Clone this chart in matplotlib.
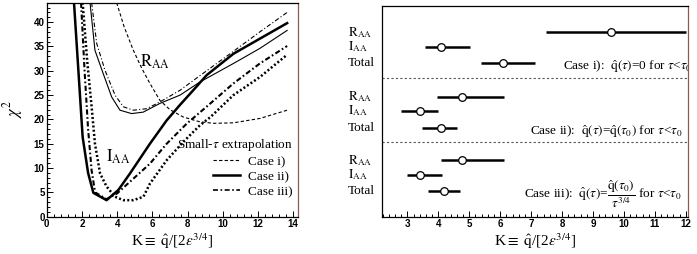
import matplotlib
matplotlib.use("Agg")
import matplotlib.pyplot as plt
from matplotlib.lines import Line2D
from matplotlib.ticker import MultipleLocator
import matplotlib.transforms as mtransforms

plt.rcParams['mathtext.fontset'] = 'stix'
plt.rcParams['font.family'] = ['Liberation Serif', 'DejaVu Serif']

# ---------------- Left panel data: chi2 vs K ----------------
# R_AA curves (thin)
raa_i_k   = [3.97, 4.4, 4.92, 5.4, 5.86, 6.43, 7.0, 7.75, 8.7, 9.5, 10.6, 12.1, 13.65]
raa_i_chi = [44.0, 39.0, 34.2, 30.5, 27.4, 23.9, 22.0, 20.5, 19.5, 19.2, 19.3, 20.2, 21.9]

raa_ii_k   = [2.46, 2.74, 3.21, 3.69, 4.16, 4.82, 5.48, 6.43, 7.57, 8.7, 10.6, 12.1, 13.65]
raa_ii_chi = [44.0, 34.2, 29.4, 24.6, 21.9, 21.2, 21.5, 23.3, 25.0, 27.7, 31.5, 34.6, 38.3]

raa_iii_k   = [2.55, 2.84, 3.31, 3.88, 4.35, 4.92, 5.67, 6.43, 7.57, 8.7, 10.6, 12.1, 13.65]
raa_iii_chi = [44.0, 35.6, 30.1, 25.0, 22.6, 21.9, 22.2, 23.6, 26.0, 29.0, 34.0, 38.0, 42.0]

# I_AA curves (thick)
iaa_i_k   = [2.04, 2.3, 2.55, 2.74, 3.03, 3.4, 3.88, 4.35, 4.92, 5.49, 5.86, 6.81, 7.76, 8.7, 9.3, 10.6, 12.1, 13.65]
iaa_i_chi = [44.0, 32.0, 22.6, 15.0, 8.9, 6.2, 4.1, 3.4, 3.4, 4.1, 6.8, 11.6, 15.4, 18.8, 20.5, 25.0, 28.7, 33.3]

iaa_ii_k   = [1.55, 1.8, 2.04, 2.35, 2.65, 3.4, 4.07, 4.73, 5.86, 6.81, 7.57, 8.32, 9.08, 10.6, 12.1, 13.65]
iaa_ii_chi = [44.0, 30.0, 16.4, 9.0, 4.9, 3.4, 5.5, 8.9, 15.0, 19.8, 23.0, 26.0, 29.1, 33.5, 36.6, 39.8]

iaa_iii_k   = [1.95, 2.15, 2.35, 2.55, 2.75, 3.4, 4.0, 4.73, 5.86, 6.81, 7.94, 9.2, 10.6, 12.1, 13.65]
iaa_iii_chi = [44.0, 30.0, 18.0, 9.5, 5.0, 3.6, 4.8, 7.2, 10.9, 15.0, 19.1, 23.0, 27.4, 31.5, 35.1]

# ---------------- Right panel data: best K with ranges ----------------
cases = ['i', 'ii', 'iii']
row_names = ['R_AA', 'I_AA', 'Total']
best   = [[9.57, 4.09, 6.08], [4.78, 3.40, 4.09], [4.78, 3.40, 4.19]]
lo     = [[7.48, 3.58, 5.38], [3.97, 2.78, 3.47], [4.08, 2.98, 3.68]]
hi     = [[12.01, 5.02, 7.11], [6.11, 4.00, 4.61], [6.11, 4.11, 4.70]]

W, H = 697, 254
fig = plt.figure(figsize=(W / 100, H / 100), dpi=100)

tickfont = dict(family='Liberation Sans', weight='bold', size=7)
spine_right_color = '#8a5a50'

# ================= Left panel =================
ax1 = fig.add_axes([46.7 / W, 1 - 216.7 / H, (297.7 - 46.7) / W, (216.7 - 2.7) / H])
thin = 0.8
thick = 1.8
ax1.plot(raa_i_k, raa_i_chi, color='black', lw=thin, ls=(0, (3, 2)))
ax1.plot(raa_ii_k, raa_ii_chi, color='black', lw=thin, ls='-')
ax1.plot(raa_iii_k, raa_iii_chi, color='black', lw=thin, ls=(0, (4, 2, 1, 2)))
ax1.plot(iaa_i_k, iaa_i_chi, color='black', lw=thick, ls=(0, (0.8, 0.9)))
ax1.plot(iaa_ii_k, iaa_ii_chi, color='black', lw=thick, ls='-')
ax1.plot(iaa_iii_k, iaa_iii_chi, color='black', lw=1.5, ls=(0, (2.5, 1.2, 0.8, 1.2)))

ax1.set_xlim(0, 14.25)
ax1.set_ylim(0, 44)
ax1.xaxis.set_major_locator(MultipleLocator(2))
ax1.xaxis.set_minor_locator(MultipleLocator(0.4))
ax1.yaxis.set_major_locator(MultipleLocator(5))
ax1.yaxis.set_minor_locator(MultipleLocator(1))
ax1.tick_params(which='both', direction='in', top=False, right=False, width=0.7)
ax1.tick_params(which='major', length=4, pad=1.5)
ax1.tick_params(which='minor', length=2)
for lab in ax1.get_xticklabels() + ax1.get_yticklabels():
    lab.set_fontproperties(matplotlib.font_manager.FontProperties(**tickfont))
for s in ax1.spines.values():
    s.set_linewidth(0.9)
ax1.spines['right'].set_color(spine_right_color)

ax1.text(6.15, 31.8, r'$\mathrm{R}_{\mathrm{AA}}$', fontsize=12, ha='center', va='center')
ax1.text(4.07, 12.3, r'$\mathrm{I}_{\mathrm{AA}}$', fontsize=12, ha='center', va='center')

handles = [Line2D([], [], color='black', lw=thin, ls=(0, (3, 2))),
           Line2D([], [], color='black', lw=thick, ls='-'),
           Line2D([], [], color='black', lw=1.2, ls=(0, (3, 1.5, 1, 1.5)))]
leg = ax1.legend(handles, ['Case i)', 'Case ii)', 'Case iii)'],
                 title=r'Small-$\tau$ extrapolation', loc='lower right',
                 bbox_to_anchor=(1.015, 0.045), frameon=False, fontsize=9.5,
                 title_fontsize=9.5, handlelength=2.0, handletextpad=0.6,
                 labelspacing=0.2, borderpad=0.2)
leg._legend_box.align = 'right'

ax1.set_xlabel(r'K$\equiv$ $\hat{\mathrm{q}}$/[2$\varepsilon^{3/4}$]', fontsize=11, labelpad=2)
fig.text(13 / W, 1 - 109 / H, r'$\chi^2$', rotation=90, fontsize=12, ha='center', va='center')

# ================= Right panel =================
ax2 = fig.add_axes([381.7 / W, 1 - 216.7 / H, (688.3 - 381.7) / W, (216.7 - 6) / H])
ax2.set_xlim(2.17, 12.08)
ax2.set_ylim(0, 13.25)

group_base = [9.65, 5.6, 1.6]
row_offsets = [1.95, 1.05, 0.0]
row_labels = [r'$\mathrm{R}_{\mathrm{AA}}$', r'$\mathrm{I}_{\mathrm{AA}}$', 'Total']
blend = mtransforms.blended_transform_factory(ax2.transAxes, ax2.transData)
for g in range(3):
    for r in range(3):
        y = group_base[g] + row_offsets[r]
        ax2.plot([lo[g][r], hi[g][r]], [y, y], color='black', lw=1.8, solid_capstyle='butt')
        ax2.plot([best[g][r]], [y], marker='o', ms=5.5, mfc='white', mec='black', mew=0.9)
        ax2.text(-0.111, y, row_labels[r], transform=blend, fontsize=9.5,
                 ha='left', va='center', clip_on=False)

for y in [8.7, 4.7]:
    ax2.axhline(y, color='#555555', lw=0.8, ls=(0, (2, 2)))

case_texts = [r'Case i):  $\hat{\mathrm{q}}(\tau)$=0 for $\tau$<$\tau_0$',
              r'Case ii):  $\hat{\mathrm{q}}(\tau)$=$\hat{\mathrm{q}}(\tau_0)$ for $\tau$<$\tau_0$',
              r'Case iii):  $\hat{\mathrm{q}}(\tau)$=$\dfrac{\hat{\mathrm{q}}(\tau_0)}{\tau^{3/4}}$ for $\tau$<$\tau_0$']
case_pos = [(12.2, 9.45), (11.9, 5.35), (11.87, 1.4)]
for t, (x, y) in zip(case_texts, case_pos):
    ax2.text(x, y, t, fontsize=9.5, ha='right', va='center', clip_on=True)

ax2.xaxis.set_major_locator(MultipleLocator(1))
ax2.xaxis.set_minor_locator(MultipleLocator(0.2))
ax2.set_yticks([])
ax2.tick_params(which='both', direction='in', top=False, right=False, left=False, width=0.7)
ax2.tick_params(which='major', length=4, pad=1.5)
ax2.tick_params(which='minor', length=2)
for lab in ax2.get_xticklabels():
    lab.set_fontproperties(matplotlib.font_manager.FontProperties(**tickfont))
for s in ax2.spines.values():
    s.set_linewidth(0.9)
ax2.spines['right'].set_color(spine_right_color)
ax2.set_xlabel(r'K$\equiv$ $\hat{\mathrm{q}}$/[2$\varepsilon^{3/4}$]', fontsize=11, labelpad=2)

fig.savefig('out.png', dpi=100)
